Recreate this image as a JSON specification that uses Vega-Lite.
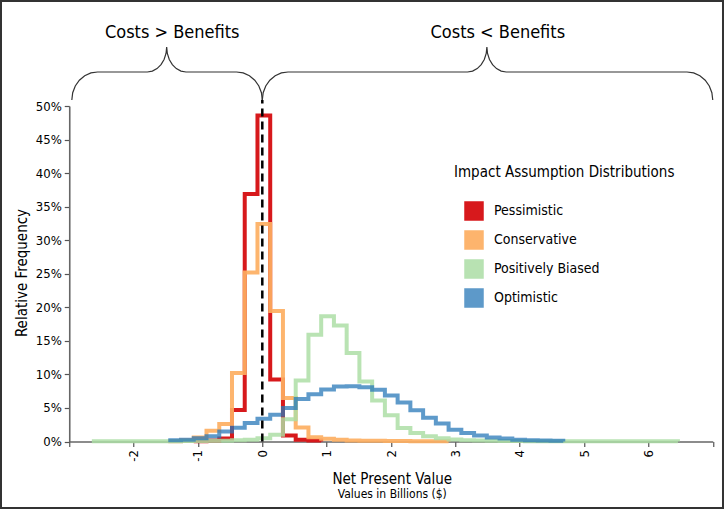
{
  "$schema": "https://vega.github.io/schema/vega-lite/v6.json",
  "width": 643.5,
  "height": 335.5,
  "padding": {"left": 69.25, "top": 106, "right": 12.25, "bottom": 68.5},
  "autosize": {"type": "none"},
  "background": "white",
  "config": {
    "view": {"stroke": null},
    "font": "DejaVu Sans Condensed",
    "axisY": {"labelOverlap": false, "tickCount": 11}
  },
  "datasets": {
    "one": [{}],
    "hist": [
      {"dist": "Pessimistic", "npv": -1.065, "freq": 0.0005},
      {"dist": "Pessimistic", "npv": -0.867, "freq": 0.0015},
      {"dist": "Pessimistic", "npv": -0.669, "freq": 0.0045},
      {"dist": "Pessimistic", "npv": -0.471, "freq": 0.047},
      {"dist": "Pessimistic", "npv": -0.273, "freq": 0.369},
      {"dist": "Pessimistic", "npv": -0.075, "freq": 0.486},
      {"dist": "Pessimistic", "npv": 0.123, "freq": 0.0925},
      {"dist": "Pessimistic", "npv": 0.321, "freq": 0.009},
      {"dist": "Pessimistic", "npv": 0.519, "freq": 0.0025},
      {"dist": "Pessimistic", "npv": 0.717, "freq": 0.0015},
      {"dist": "Pessimistic", "npv": 0.915, "freq": 0},

      {"dist": "Conservative", "npv": -1.461, "freq": 0.0005},
      {"dist": "Conservative", "npv": -1.263, "freq": 0.002},
      {"dist": "Conservative", "npv": -1.065, "freq": 0.006},
      {"dist": "Conservative", "npv": -0.867, "freq": 0.016},
      {"dist": "Conservative", "npv": -0.669, "freq": 0.026},
      {"dist": "Conservative", "npv": -0.471, "freq": 0.102},
      {"dist": "Conservative", "npv": -0.273, "freq": 0.252},
      {"dist": "Conservative", "npv": -0.075, "freq": 0.324},
      {"dist": "Conservative", "npv": 0.123, "freq": 0.1945},
      {"dist": "Conservative", "npv": 0.321, "freq": 0.065},
      {"dist": "Conservative", "npv": 0.519, "freq": 0.021},
      {"dist": "Conservative", "npv": 0.717, "freq": 0.0065},
      {"dist": "Conservative", "npv": 0.915, "freq": 0.004},
      {"dist": "Conservative", "npv": 1.113, "freq": 0.0025},
      {"dist": "Conservative", "npv": 1.311, "freq": 0.0015},
      {"dist": "Conservative", "npv": 1.509, "freq": 0.0012},
      {"dist": "Conservative", "npv": 1.707, "freq": 0.001},
      {"dist": "Conservative", "npv": 1.905, "freq": 0.0008},
      {"dist": "Conservative", "npv": 2.103, "freq": 0.0006},
      {"dist": "Conservative", "npv": 2.301, "freq": 0.0005},
      {"dist": "Conservative", "npv": 2.499, "freq": 0.0004},
      {"dist": "Conservative", "npv": 2.697, "freq": 0.0003},
      {"dist": "Conservative", "npv": 2.895, "freq": 0},

      {"dist": "Positively Biased", "npv": -2.649, "freq": 0.0002},
      {"dist": "Positively Biased", "npv": -2.451, "freq": 0.0002},
      {"dist": "Positively Biased", "npv": -2.253, "freq": 0.0002},
      {"dist": "Positively Biased", "npv": -2.055, "freq": 0.0003},
      {"dist": "Positively Biased", "npv": -1.857, "freq": 0.0003},
      {"dist": "Positively Biased", "npv": -1.659, "freq": 0.0004},
      {"dist": "Positively Biased", "npv": -1.461, "freq": 0.0005},
      {"dist": "Positively Biased", "npv": -1.263, "freq": 0.0006},
      {"dist": "Positively Biased", "npv": -1.065, "freq": 0.0008},
      {"dist": "Positively Biased", "npv": -0.867, "freq": 0.001},
      {"dist": "Positively Biased", "npv": -0.669, "freq": 0.0012},
      {"dist": "Positively Biased", "npv": -0.471, "freq": 0.0018},
      {"dist": "Positively Biased", "npv": -0.273, "freq": 0.0025},
      {"dist": "Positively Biased", "npv": -0.075, "freq": 0.005},
      {"dist": "Positively Biased", "npv": 0.123, "freq": 0.01},
      {"dist": "Positively Biased", "npv": 0.321, "freq": 0.033},
      {"dist": "Positively Biased", "npv": 0.519, "freq": 0.091},
      {"dist": "Positively Biased", "npv": 0.717, "freq": 0.159},
      {"dist": "Positively Biased", "npv": 0.915, "freq": 0.1865},
      {"dist": "Positively Biased", "npv": 1.113, "freq": 0.173},
      {"dist": "Positively Biased", "npv": 1.311, "freq": 0.132},
      {"dist": "Positively Biased", "npv": 1.509, "freq": 0.0895},
      {"dist": "Positively Biased", "npv": 1.707, "freq": 0.061},
      {"dist": "Positively Biased", "npv": 1.905, "freq": 0.039},
      {"dist": "Positively Biased", "npv": 2.103, "freq": 0.02},
      {"dist": "Positively Biased", "npv": 2.301, "freq": 0.0125},
      {"dist": "Positively Biased", "npv": 2.499, "freq": 0.008},
      {"dist": "Positively Biased", "npv": 2.697, "freq": 0.005},
      {"dist": "Positively Biased", "npv": 2.895, "freq": 0.003},
      {"dist": "Positively Biased", "npv": 3.093, "freq": 0.002},
      {"dist": "Positively Biased", "npv": 3.291, "freq": 0.0015},
      {"dist": "Positively Biased", "npv": 3.489, "freq": 0.001},
      {"dist": "Positively Biased", "npv": 3.687, "freq": 0.0008},
      {"dist": "Positively Biased", "npv": 3.885, "freq": 0.0006},
      {"dist": "Positively Biased", "npv": 4.083, "freq": 0.0005},
      {"dist": "Positively Biased", "npv": 4.281, "freq": 0.0004},
      {"dist": "Positively Biased", "npv": 4.479, "freq": 0.0004},
      {"dist": "Positively Biased", "npv": 4.677, "freq": 0.0003},
      {"dist": "Positively Biased", "npv": 4.875, "freq": 0.0003},
      {"dist": "Positively Biased", "npv": 5.073, "freq": 0.0003},
      {"dist": "Positively Biased", "npv": 5.271, "freq": 0.0002},
      {"dist": "Positively Biased", "npv": 5.469, "freq": 0.0002},
      {"dist": "Positively Biased", "npv": 5.667, "freq": 0.0002},
      {"dist": "Positively Biased", "npv": 5.865, "freq": 0.0002},
      {"dist": "Positively Biased", "npv": 6.063, "freq": 0.0002},
      {"dist": "Positively Biased", "npv": 6.261, "freq": 0.0002},
      {"dist": "Positively Biased", "npv": 6.459, "freq": 0},

      {"dist": "Optimistic", "npv": -1.461, "freq": 0.002},
      {"dist": "Optimistic", "npv": -1.263, "freq": 0.0025},
      {"dist": "Optimistic", "npv": -1.065, "freq": 0.005},
      {"dist": "Optimistic", "npv": -0.867, "freq": 0.008},
      {"dist": "Optimistic", "npv": -0.669, "freq": 0.015},
      {"dist": "Optimistic", "npv": -0.471, "freq": 0.0205},
      {"dist": "Optimistic", "npv": -0.273, "freq": 0.0275},
      {"dist": "Optimistic", "npv": -0.075, "freq": 0.034},
      {"dist": "Optimistic", "npv": 0.123, "freq": 0.04},
      {"dist": "Optimistic", "npv": 0.321, "freq": 0.05},
      {"dist": "Optimistic", "npv": 0.519, "freq": 0.0635},
      {"dist": "Optimistic", "npv": 0.717, "freq": 0.0705},
      {"dist": "Optimistic", "npv": 0.915, "freq": 0.0775},
      {"dist": "Optimistic", "npv": 1.113, "freq": 0.082},
      {"dist": "Optimistic", "npv": 1.311, "freq": 0.0825},
      {"dist": "Optimistic", "npv": 1.509, "freq": 0.081},
      {"dist": "Optimistic", "npv": 1.707, "freq": 0.077},
      {"dist": "Optimistic", "npv": 1.905, "freq": 0.0685},
      {"dist": "Optimistic", "npv": 2.103, "freq": 0.058},
      {"dist": "Optimistic", "npv": 2.301, "freq": 0.0465},
      {"dist": "Optimistic", "npv": 2.499, "freq": 0.0355},
      {"dist": "Optimistic", "npv": 2.697, "freq": 0.027},
      {"dist": "Optimistic", "npv": 2.895, "freq": 0.0175},
      {"dist": "Optimistic", "npv": 3.093, "freq": 0.0125},
      {"dist": "Optimistic", "npv": 3.291, "freq": 0.009},
      {"dist": "Optimistic", "npv": 3.489, "freq": 0.006},
      {"dist": "Optimistic", "npv": 3.687, "freq": 0.0045},
      {"dist": "Optimistic", "npv": 3.885, "freq": 0.0025},
      {"dist": "Optimistic", "npv": 4.083, "freq": 0.002},
      {"dist": "Optimistic", "npv": 4.281, "freq": 0.0015},
      {"dist": "Optimistic", "npv": 4.479, "freq": 0.0012},
      {"dist": "Optimistic", "npv": 4.677, "freq": 0}
    ],
    "braces": [
      {"brace": "L", "o": 0, "bx": -2.96, "by": 0.509},
      {"brace": "L", "o": 1, "bx": -2.9464, "by": 0.5198},
      {"brace": "L", "o": 2, "bx": -2.9064, "by": 0.5299},
      {"brace": "L", "o": 3, "bx": -2.8428, "by": 0.5385},
      {"brace": "L", "o": 4, "bx": -2.76, "by": 0.5451},
      {"brace": "L", "o": 5, "bx": -2.6635, "by": 0.5493},
      {"brace": "L", "o": 6, "bx": -2.56, "by": 0.5507},
      {"brace": "L", "o": 7, "bx": -1.786, "by": 0.5507},
      {"brace": "L", "o": 8, "bx": -1.7084, "by": 0.552},
      {"brace": "L", "o": 9, "bx": -1.636, "by": 0.5557},
      {"brace": "L", "o": 10, "bx": -1.5739, "by": 0.5616},
      {"brace": "L", "o": 11, "bx": -1.5262, "by": 0.5694},
      {"brace": "L", "o": 12, "bx": -1.4962, "by": 0.5783},
      {"brace": "L", "o": 13, "bx": -1.486, "by": 0.588},
      {"brace": "L", "o": 14, "bx": -1.4758, "by": 0.5783},
      {"brace": "L", "o": 15, "bx": -1.4458, "by": 0.5694},
      {"brace": "L", "o": 16, "bx": -1.3981, "by": 0.5616},
      {"brace": "L", "o": 17, "bx": -1.336, "by": 0.5557},
      {"brace": "L", "o": 18, "bx": -1.2636, "by": 0.552},
      {"brace": "L", "o": 19, "bx": -1.186, "by": 0.5507},
      {"brace": "L", "o": 20, "bx": -0.4, "by": 0.5507},
      {"brace": "L", "o": 21, "bx": -0.2965, "by": 0.5493},
      {"brace": "L", "o": 22, "bx": -0.2, "by": 0.5451},
      {"brace": "L", "o": 23, "bx": -0.1172, "by": 0.5385},
      {"brace": "L", "o": 24, "bx": -0.0536, "by": 0.5299},
      {"brace": "L", "o": 25, "bx": -0.0136, "by": 0.5198},
      {"brace": "L", "o": 26, "bx": 0, "by": 0.509},
      {"brace": "R", "o": 0, "bx": 0, "by": 0.509},
      {"brace": "R", "o": 1, "bx": 0.0136, "by": 0.5198},
      {"brace": "R", "o": 2, "bx": 0.0536, "by": 0.5299},
      {"brace": "R", "o": 3, "bx": 0.1172, "by": 0.5385},
      {"brace": "R", "o": 4, "bx": 0.2, "by": 0.5451},
      {"brace": "R", "o": 5, "bx": 0.2965, "by": 0.5493},
      {"brace": "R", "o": 6, "bx": 0.4, "by": 0.5507},
      {"brace": "R", "o": 7, "bx": 3.19, "by": 0.5507},
      {"brace": "R", "o": 8, "bx": 3.2676, "by": 0.552},
      {"brace": "R", "o": 9, "bx": 3.34, "by": 0.5557},
      {"brace": "R", "o": 10, "bx": 3.4021, "by": 0.5616},
      {"brace": "R", "o": 11, "bx": 3.4498, "by": 0.5694},
      {"brace": "R", "o": 12, "bx": 3.4798, "by": 0.5783},
      {"brace": "R", "o": 13, "bx": 3.49, "by": 0.588},
      {"brace": "R", "o": 14, "bx": 3.5002, "by": 0.5783},
      {"brace": "R", "o": 15, "bx": 3.5302, "by": 0.5694},
      {"brace": "R", "o": 16, "bx": 3.5779, "by": 0.5616},
      {"brace": "R", "o": 17, "bx": 3.64, "by": 0.5557},
      {"brace": "R", "o": 18, "bx": 3.7124, "by": 0.552},
      {"brace": "R", "o": 19, "bx": 3.79, "by": 0.5507},
      {"brace": "R", "o": 20, "bx": 6.6, "by": 0.5507},
      {"brace": "R", "o": 21, "bx": 6.7035, "by": 0.5493},
      {"brace": "R", "o": 22, "bx": 6.8, "by": 0.5451},
      {"brace": "R", "o": 23, "bx": 6.8828, "by": 0.5385},
      {"brace": "R", "o": 24, "bx": 6.9464, "by": 0.5299},
      {"brace": "R", "o": 25, "bx": 6.9864, "by": 0.5198},
      {"brace": "R", "o": 26, "bx": 7.0, "by": 0.509}
    ]
  },
  "layer": [
    {
      "data": {"name": "hist"},
      "mark": {"type": "line", "interpolate": "step-after", "strokeWidth": 4, "strokeJoin": "miter", "strokeCap": "butt"},
      "encoding": {
        "x": {
          "field": "npv", "type": "quantitative",
          "scale": {"domain": [-3, 7], "nice": false, "zero": false},
          "axis": {
            "title": null, "values": [-3, -2, -1, 0, 1, 2, 3, 4, 5, 6, 7],
            "labelExpr": "datum.value < -2.5 || datum.value > 6.5 ? '' : '' + datum.value",
            "labelAngle": -90, "grid": false, "labelOverlap": false,
            "domain": true, "domainColor": "#666", "domainWidth": 1.6,
            "tickSize": 5, "tickColor": "#555", "tickWidth": 1.2,
            "labelFontSize": 13, "labelColor": "#000", "labelPadding": 3
          }
        },
        "y": {
          "field": "freq", "type": "quantitative",
          "scale": {"domain": [0, 0.5], "nice": false, "zero": false},
          "axis": {
            "title": null, "values": [0, 0.05, 0.1, 0.15, 0.2, 0.25, 0.3, 0.35, 0.4, 0.45, 0.5],
            "tickCount": 11,
            "format": ".0%", "grid": false, "labelOverlap": false, "labelFlush": false,
            "domain": true, "domainColor": "#666", "domainWidth": 1.6,
            "tickSize": 5, "tickColor": "#555", "tickWidth": 1.2,
            "labelFontSize": 13, "labelColor": "#000", "labelPadding": 3
          }
        },
        "color": {
          "field": "dist", "type": "nominal",
          "scale": {"domain": ["Pessimistic", "Conservative", "Positively Biased", "Optimistic"], "range": ["#d7191c", "#fdae61", "#abdda4", "#2878b8"]},
          "legend": {
            "title": "Impact Assumption Distributions",
            "orient": "none", "legendX": 384.75, "legendY": 59,
            "titleFontSize": 15, "titleFontWeight": "normal", "titleColor": "#000", "titlePadding": 21, "titleLimit": 400,
            "labelFontSize": 14, "labelColor": "#000", "labelOffset": 10, "labelLimit": 300,
            "symbolType": "square", "symbolSize": 324, "symbolStrokeWidth": 1.5, "symbolOffset": 10,
            "rowPadding": 5, "padding": 0,
            "encode": {
              "symbols": {
                "update": {
                  "fill": {"scale": "color", "field": "value"},
                  "stroke": {"value": "#222"},
                  "opacity": {"value": 1},
                  "fillOpacity": {"value": 1},
                  "strokeOpacity": {"value": 1}
                }
              }
            }
          }
        },
        "opacity": {
          "field": "dist", "type": "nominal",
          "scale": {"domain": ["Pessimistic", "Conservative", "Positively Biased", "Optimistic"], "range": [1, 0.75, 0.75, 1]},
          "legend": null
        }
      }
    },
    {
      "data": {"name": "one"},
      "mark": {"type": "rect", "fill": null, "fillOpacity": 0, "stroke": "#333", "strokeWidth": 2},
      "encoding": {
        "x": {"datum": -4.0606, "type": "quantitative"},
        "x2": {"datum": 7.1592},
        "y": {"datum": -0.0991, "type": "quantitative"},
        "y2": {"datum": 0.6565}
      }
    },
    {
      "data": {"name": "one"},
      "mark": {"type": "rule", "color": "#000", "strokeWidth": 2.5, "strokeDash": [8, 5]},
      "encoding": {
        "x": {"datum": 0, "type": "quantitative"},
        "y": {"datum": 0, "type": "quantitative"},
        "y2": {"datum": 0.509}
      }
    },
    {
      "data": {"name": "braces"},
      "mark": {"type": "line", "color": "#333", "strokeWidth": 1.2},
      "encoding": {
        "x": {"field": "bx", "type": "quantitative"},
        "y": {"field": "by", "type": "quantitative"},
        "detail": {"field": "brace", "type": "nominal"},
        "order": {"field": "o", "type": "quantitative"}
      }
    },
    {
      "data": {"name": "one"},
      "mark": {"type": "text", "text": "Costs > Benefits", "fontSize": 18, "color": "#000", "align": "center", "baseline": "middle"},
      "encoding": {
        "x": {"datum": -1.4, "type": "quantitative"},
        "y": {"datum": 0.6088, "type": "quantitative"}
      }
    },
    {
      "data": {"name": "one"},
      "mark": {"type": "text", "text": "Costs < Benefits", "fontSize": 18, "color": "#000", "align": "center", "baseline": "middle"},
      "encoding": {
        "x": {"datum": 3.66, "type": "quantitative"},
        "y": {"datum": 0.6088, "type": "quantitative"}
      }
    },
    {
      "data": {"name": "one"},
      "mark": {"type": "text", "text": "Net Present Value", "fontSize": 15, "color": "#000", "align": "center", "baseline": "middle"},
      "encoding": {
        "x": {"datum": 2.02, "type": "quantitative"},
        "y": {"datum": -0.0559, "type": "quantitative"}
      }
    },
    {
      "data": {"name": "one"},
      "mark": {"type": "text", "text": "Values in Billions ($)", "fontSize": 12, "color": "#000", "align": "center", "baseline": "middle"},
      "encoding": {
        "x": {"datum": 2.02, "type": "quantitative"},
        "y": {"datum": -0.0782, "type": "quantitative"}
      }
    },
    {
      "data": {"name": "one"},
      "mark": {"type": "text", "text": "Relative Frequency", "fontSize": 15, "color": "#000", "align": "center", "baseline": "middle", "angle": 270},
      "encoding": {
        "x": {"datum": -3.734, "type": "quantitative"},
        "y": {"datum": 0.2511, "type": "quantitative"}
      }
    }
  ]
}
